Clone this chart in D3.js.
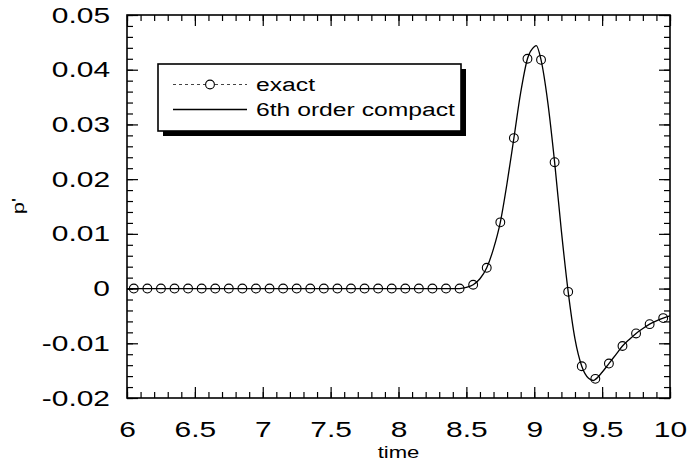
<!DOCTYPE html>
<html>
<head>
<meta charset="utf-8">
<script src="https://cdn.jsdelivr.net/npm/d3@7"></script>
<style>
  body { margin: 0; background: #fff; }
  svg { display: block; font-family: "Liberation Sans", Arial, Helvetica, sans-serif; }
</style>
</head>
<body>
<svg width="688" height="461"></svg>
<script>
// exact solution, sampled every 0.1
const exactTime = [6.05, 6.15, 6.25, 6.35, 6.45, 6.55, 6.65, 6.75, 6.85, 6.95,
                   7.05, 7.15, 7.25, 7.35, 7.45, 7.55, 7.65, 7.75, 7.85, 7.95,
                   8.05, 8.15, 8.25, 8.35, 8.45, 8.55, 8.65, 8.75, 8.85, 8.95,
                   9.05, 9.15, 9.25, 9.35, 9.45, 9.55, 9.65, 9.75, 9.85, 9.95];
const exactP = [0, 0, 0, 0, 0, 0, 0, 0, 0, 0,
                0, 0, 0, 0, 0, 0, 0, 0, 0, 0,
                0, 0, 0, 0, 0.0000, 0.0007, 0.0038, 0.0121, 0.0275, 0.0420,
                0.0418, 0.0231, -0.0006, -0.0142, -0.0165, -0.0137, -0.0105, -0.0082, -0.0065, -0.0054];

// 6th order compact scheme result
const compactTime = [6.0, 8.3, 8.4, 8.45, 8.5, 8.55, 8.6, 8.65, 8.7, 8.75, 8.8, 8.85, 8.9, 8.95,
                     9.0, 9.015, 9.05, 9.1, 9.15, 9.2, 9.25, 9.3, 9.35, 9.4, 9.435, 9.45,
                     9.5, 9.55, 9.6, 9.65, 9.7, 9.75, 9.8, 9.85, 9.9, 9.95, 10.0];
const compactP = [0, 0, 0, 0.0000, 0.0002, 0.0007, 0.0018, 0.0038, 0.0073, 0.0121, 0.0193, 0.0275, 0.0358, 0.0420,
                  0.0442, 0.0444, 0.0418, 0.0340, 0.0231, 0.0105, -0.0006, -0.0092, -0.0142, -0.0164, -0.0168, -0.0166,
                  -0.0153, -0.0137, -0.0121, -0.0105, -0.0093, -0.0082, -0.0073, -0.0065, -0.0059, -0.0054, -0.0050];

const xMajor = [6, 6.5, 7, 7.5, 8, 8.5, 9, 9.5, 10];
const xLabels = ["6", "6.5", "7", "7.5", "8", "8.5", "9", "9.5", "10"];
const yMajor = [-0.02, -0.01, 0, 0.01, 0.02, 0.03, 0.04, 0.05];
const yLabels = ["-0.02", "-0.01", "0", "0.01", "0.02", "0.03", "0.04", "0.05"];

const legendItems = ["exact", "6th order compact"];

const svg = d3.select("svg");
const m = { left: 127, right: 670, top: 15, bottom: 398 };
const stretch = "scale(1.3,1)";

const x = d3.scaleLinear().domain([6, 10]).range([m.left, m.right]);
const y = d3.scaleLinear().domain([-0.02, 0.05]).range([m.bottom, m.top]);

svg.append("rect").attr("width", 688).attr("height", 461).attr("fill", "#fff");

svg.append("clipPath").attr("id", "plot")
  .append("rect").attr("x", m.left).attr("y", m.top)
  .attr("width", m.right - m.left).attr("height", m.bottom - m.top);

// major and minor ticks, all pointing inward
function ticks(makeAxis, g, major, minor, labels, pad) {
  g.append("g").call(makeAxis().tickValues(minor).tickSize(-6).tickFormat(""));
  g.append("g").call(makeAxis().tickValues(major).tickSize(-11).tickPadding(pad || 3)
    .tickFormat((d, i) => labels ? labels[i] : ""));
}

const xMinor = x.ticks(40), yMinor = y.ticks(35);

const gB = svg.append("g").attr("transform", `translate(0,${m.bottom})`);
ticks(() => d3.axisBottom(x), gB, xMajor, xMinor, xLabels, 23);
const gT = svg.append("g").attr("transform", `translate(0,${m.top})`);
ticks(() => d3.axisTop(x), gT, xMajor, xMinor, null);
const gL = svg.append("g").attr("transform", `translate(${m.left},0)`);
ticks(() => d3.axisLeft(y), gL, yMajor, yMinor, yLabels, 12.5);
const gR = svg.append("g").attr("transform", `translate(${m.right},0)`);
ticks(() => d3.axisRight(y), gR, yMajor, yMinor, null);

svg.selectAll(".domain").remove();
svg.selectAll(".tick line").attr("stroke", "#000").attr("stroke-width", 1.2);
svg.selectAll(".tick text")
  .attr("font-size", 22).attr("fill", "#000")
  .attr("transform", "scale(1.36,1)");
svg.selectAll("g[font-family]").attr("font-family", null);

svg.append("rect")
  .attr("x", m.left).attr("y", m.top)
  .attr("width", m.right - m.left).attr("height", m.bottom - m.top)
  .attr("fill", "none").attr("stroke", "#000").attr("stroke-width", 1.6);

// curves
const line = d3.line()
  .x(d => x(d[0])).y(d => y(d[1]))
  .curve(d3.curveMonotoneX);

svg.append("path")
  .datum(d3.zip(compactTime, compactP))
  .attr("clip-path", "url(#plot)")
  .attr("d", line)
  .attr("fill", "none").attr("stroke", "#000").attr("stroke-width", 1.3);

svg.append("g").selectAll("circle")
  .data(d3.zip(exactTime, exactP))
  .join("circle")
  .attr("cx", d => x(d[0])).attr("cy", d => y(d[1]))
  .attr("r", 4.4)
  .attr("fill", "none").attr("stroke", "#000").attr("stroke-width", 1.1);

// axis titles
svg.append("text")
  .attr("transform", `translate(${x(8)},458) ${stretch}`)
  .attr("text-anchor", "middle").attr("font-size", 17)
  .text("time");

svg.append("text")
  .attr("transform", "translate(24,206) rotate(-90) scale(1.3,1)")
  .attr("text-anchor", "middle").attr("font-size", 17)
  .text("p'");

// legend
const lg = svg.append("g").attr("transform", "translate(158,64)");
lg.append("rect").attr("x", 5).attr("y", 5).attr("width", 303).attr("height", 67).attr("fill", "#000");
lg.append("rect").attr("width", 303).attr("height", 67)
  .attr("fill", "#fff").attr("stroke", "#000").attr("stroke-width", 1.6);

const rows = [20.5, 45.5];
lg.append("line").attr("x1", 15).attr("x2", 89).attr("y1", rows[0]).attr("y2", rows[0])
  .attr("stroke", "#444").attr("stroke-width", 1.1).attr("stroke-dasharray", "3,3");
lg.append("circle").attr("cx", 52).attr("cy", rows[0]).attr("r", 4.4)
  .attr("fill", "#fff").attr("stroke", "#000").attr("stroke-width", 1.1);
lg.append("line").attr("x1", 15).attr("x2", 89).attr("y1", rows[1]).attr("y2", rows[1])
  .attr("stroke", "#000").attr("stroke-width", 1.3);

lg.selectAll("text.item")
  .data(legendItems)
  .join("text")
  .attr("class", "item")
  .attr("transform", (d, i) => `translate(98,${rows[i]}) ${stretch}`)
  .attr("dy", "0.35em").attr("font-size", 19)
  .text(d => d);
</script>
</body>
</html>
